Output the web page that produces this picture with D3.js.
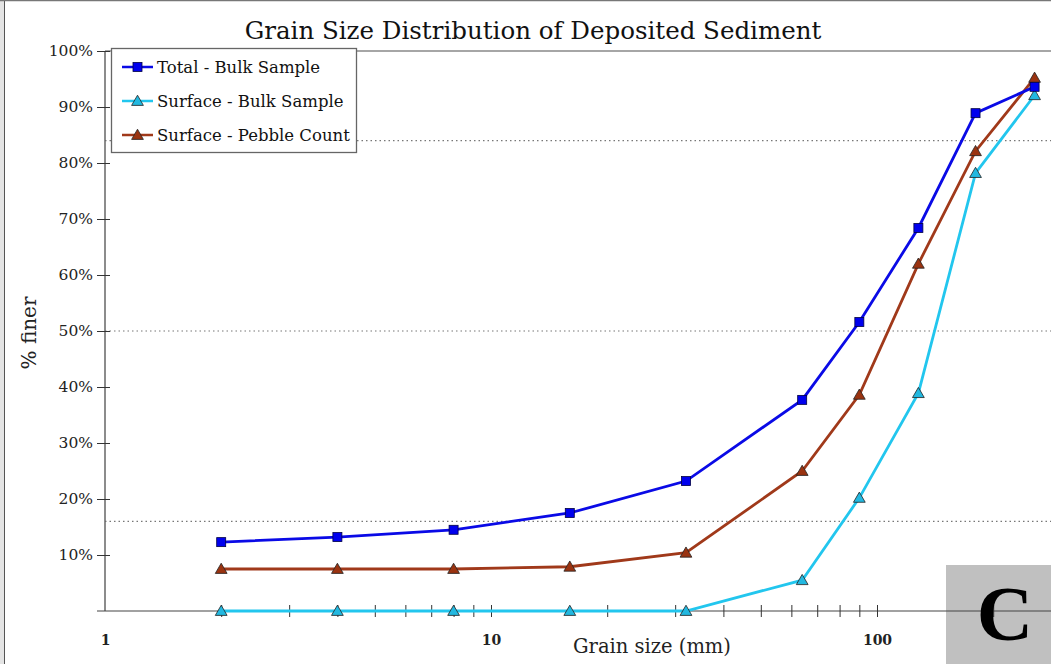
<!DOCTYPE html>
<html>
<head>
<meta charset="utf-8">
<script src="https://cdn.jsdelivr.net/npm/d3@7"></script>
<style>
  html, body { margin: 0; padding: 0; background: #fff; }
  svg { display: block; }
</style>
</head>
<body>
<svg id="chart" width="1051" height="664"></svg>
<script>
// ---- data ----
const grainSizes = [2, 4, 8, 16, 32, 64, 90, 128, 180, 256];
const totalBulk = [12.3, 13.2, 14.5, 17.5, 23.2, 37.7, 51.6, 68.4, 88.9, 93.6];
const surfaceBulk = [0, 0, 0, 0, 0, 5.5, 20.2, 38.9, 78.2, 92.1];
const pebbleCount = [7.5, 7.5, 7.5, 7.9, 10.4, 25.0, 38.6, 62.0, 82.1, 95.2];
const seriesNames = ["Total - Bulk Sample", "Surface - Bulk Sample", "Surface - Pebble Count"];
const yTicks = [10, 20, 30, 40, 50, 60, 70, 80, 90, 100];
const xMajorTicks = [1, 10, 100];
const refLines = [16, 50, 84];
const titleText = "Grain Size Distribution of Deposited Sediment";

const FONT = "'DejaVu Serif', 'Liberation Serif', serif";
const svg = d3.select("#chart");
const W = 1051, H = 664;

// frame
svg.append("rect").attr("x", 0).attr("y", 0).attr("width", 4).attr("height", H).attr("fill", "#e4e4e4");
svg.append("line").attr("x1", 4.5).attr("x2", 4.5).attr("y1", 0).attr("y2", H).attr("stroke", "#555").attr("stroke-width", 1);
svg.append("line").attr("x1", 0).attr("x2", W).attr("y1", 0.5).attr("y2", 0.5).attr("stroke", "#777").attr("stroke-width", 1.5);

const x = d3.scaleLog().domain([1, 1000]).range([105, 105 + 3 * 386]);
const y = d3.scaleLinear().domain([0, 100]).range([611, 51]);

// plot top border
svg.append("line").attr("x1", 105).attr("x2", W).attr("y1", 51).attr("y2", 51)
  .attr("stroke", "#888").attr("stroke-width", 1.5);

// reference dotted lines
svg.selectAll("line.ref").data(refLines).join("line").attr("class", "ref")
  .attr("x1", 105).attr("x2", W)
  .attr("y1", d => y(d)).attr("y2", d => y(d))
  .attr("stroke", "#777").attr("stroke-width", 1.2).attr("stroke-dasharray", "1.5,3");

// "C" box
svg.append("rect").attr("x", 946).attr("y", 565).attr("width", W - 946).attr("height", H - 565).attr("fill", "#c0c0c0");

// y axis
const yAxis = d3.axisLeft(y).tickValues(yTicks).tickSize(8).tickFormat(d => d + "%");
const gy = svg.append("g").attr("transform", "translate(105,0)").call(yAxis);
gy.select(".domain").attr("stroke", "#666").attr("stroke-width", 1.5).attr("d", "M0,51V611");
gy.selectAll(".tick line").attr("x2", -8).attr("x1", 5).attr("stroke", "#333");
gy.selectAll(".tick text").attr("x", -12).attr("font-family", FONT).attr("font-size", 15.5).attr("fill", "#222");

// x axis
const allTicks = [];
for (let dec = 1; dec <= 100; dec *= 10) for (let m = 1; m <= 9; m++) { const v = dec * m; if (x(v) <= W) allTicks.push(v); }
const xAxis = d3.axisBottom(x).tickValues(allTicks).tickSize(6).tickFormat(d => xMajorTicks.includes(d) ? d : "");
const gx = svg.append("g").attr("transform", "translate(0,611)").call(xAxis);
gx.select(".domain").attr("d", `M97,0H${W}`).attr("stroke", "#444").attr("stroke-width", 1.2);
gx.selectAll(".tick line").attr("y1", d => d === 1 ? 0 : -6).attr("y2", 6).attr("stroke", "#333")
  .attr("display", d => d === 1 ? "none" : null);
gx.selectAll(".tick text").attr("y", 24).attr("font-family", FONT).attr("font-size", 14).attr("font-weight", "bold").attr("fill", "#222");

// lines
const series = [
  { name: seriesNames[0], values: totalBulk, color: "#0a0ae6", fill: "#0000ee", shape: "square" },
  { name: seriesNames[1], values: surfaceBulk, color: "#22c6ee", fill: "#22b8e0", shape: "triangle" },
  { name: seriesNames[2], values: pebbleCount, color: "#a0391a", fill: "#9a3310", shape: "triangle" }
];
const line = d3.line().x(d => x(d[0])).y(d => y(d[1]));
const drawOrder = [1, 2, 0];

function marker(g, s, cx, cy) {
  if (s.shape === "square") {
    g.append("rect").attr("x", cx - 4.5).attr("y", cy - 4.5).attr("width", 9).attr("height", 9)
      .attr("fill", s.fill).attr("stroke", "#000044").attr("stroke-width", 0.8);
  } else {
    g.append("path").attr("d", d3.symbol(d3.symbolTriangle, 60)())
      .attr("transform", `translate(${cx},${cy + 1})`)
      .attr("fill", s.fill).attr("stroke", "#222").attr("stroke-width", 0.8);
  }
}

drawOrder.forEach(i => {
  const s = series[i];
  const pts = grainSizes.map((g, j) => [g, s.values[j]]);
  svg.append("path").attr("d", line(pts)).attr("fill", "none").attr("stroke", s.color).attr("stroke-width", 2.8);
});
drawOrder.forEach(i => {
  const s = series[i];
  const g = svg.append("g");
  grainSizes.forEach((gs, j) => marker(g, s, x(gs), y(s.values[j])));
});

// C label
svg.append("text").attr("x", 1005).attr("y", 640).attr("text-anchor", "middle")
  .attr("font-family", "'Liberation Serif', serif").attr("font-weight", "bold").attr("font-size", 78)
  .attr("fill", "#000").text("C");

// legend
const lg = svg.append("g");
lg.append("rect").attr("x", 111.5).attr("y", 48.5).attr("width", 245).attr("height", 104)
  .attr("fill", "#fff").attr("stroke", "#666").attr("stroke-width", 1.3);
series.forEach((s, i) => {
  const ly = 67 + i * 34;
  lg.append("line").attr("x1", 122).attr("x2", 153).attr("y1", ly).attr("y2", ly).attr("stroke", s.color).attr("stroke-width", 2.5);
  marker(lg, s, 137.5, ly);
  lg.append("text").attr("x", 157).attr("y", ly + 6).attr("font-family", FONT).attr("font-size", 16.5)
    .attr("fill", "#111").text(s.name);
});

// title
svg.append("text").attr("x", 533).attr("y", 39).attr("text-anchor", "middle")
  .attr("font-family", FONT).attr("font-size", 24.5).attr("fill", "#111").text(titleText);

// axis titles
svg.append("text").attr("x", 652).attr("y", 653).attr("text-anchor", "middle")
  .attr("font-family", FONT).attr("font-size", 19.5).attr("fill", "#222").text("Grain size (mm)");
svg.append("text").attr("transform", "translate(36,333) rotate(-90)").attr("text-anchor", "middle")
  .attr("font-family", FONT).attr("font-size", 20).attr("fill", "#222").text("% finer");
</script>
</body>
</html>
